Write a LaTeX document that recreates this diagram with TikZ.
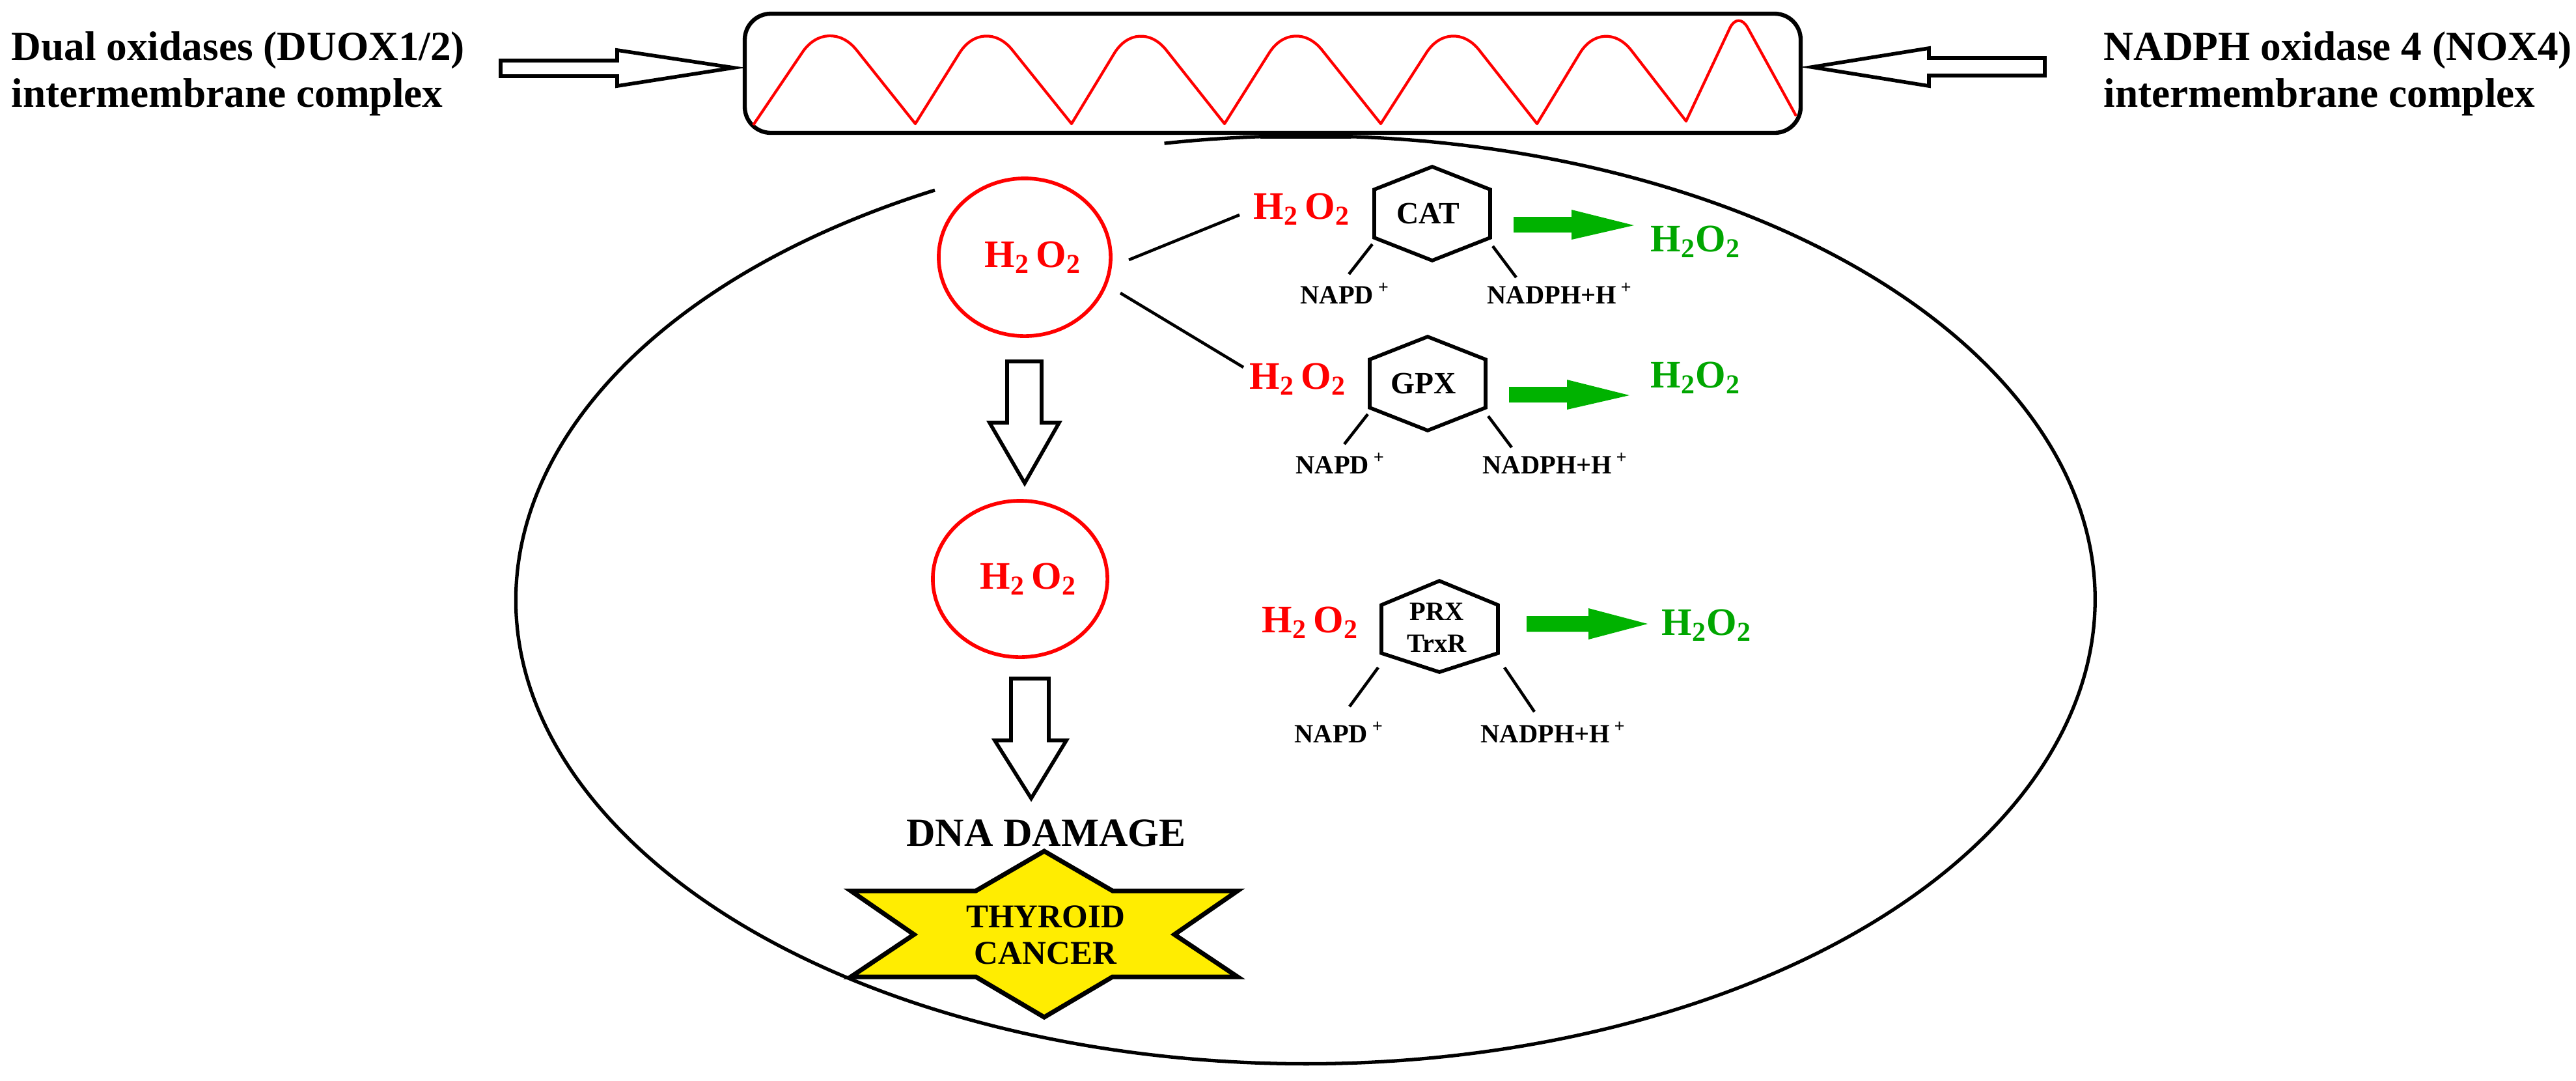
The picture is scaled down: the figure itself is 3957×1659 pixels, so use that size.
\documentclass[tikz,border=0pt]{standalone}
\usepackage{fontspec}
\setmainfont{Liberation Serif}
\usetikzlibrary{shapes.geometric}
\begin{document}
\begin{tikzpicture}[x=0.01cm,y=-0.01cm,
  lbl/.style={font=\bfseries\fontsize{18}{20.2}\selectfont,align=left,anchor=base west,inner sep=0},
  red2/.style={font=\bfseries\fontsize{17}{19}\selectfont,text=red,inner sep=0,anchor=base west},
  grn2/.style={font=\bfseries\fontsize{17}{19}\selectfont,text=green!65!black,inner sep=0,anchor=base west},
  small/.style={font=\bfseries\fontsize{11.5}{13}\selectfont,inner sep=0,anchor=base west},
  hollow/.style={draw=black,fill=white,line width=1.6pt,line join=miter},
  leg/.style={line width=1.3pt},
  hex/.style={line width=1.6pt},
  rc/.style={rounded corners=0.7cm}]
\useasboundingbox (0,0) rectangle (3957,1659);
% top labels
\node[lbl] (duox) at (17,164) {Dual oxidases (DUOX1/2)\\intermembrane complex};
\node[lbl] (nox) at (3231,164) {NADPH oxidase 4 (NOX4)\\intermembrane complex};
% membrane
\draw[line width=1.8pt,rounded corners=0.4cm] (1144,21) rectangle (2766,204);
\draw[red,line width=1.2pt,line join=round] (1157,192)
  [rc] -- (1272,22) [sharp corners] -- (1406,190)
  [rc] -- (1511,22) [sharp corners] -- (1646,190)
  [rc] -- (1748,22) [sharp corners] -- (1881,190)
  [rc] -- (1987,22) [sharp corners] -- (2121,190)
  [rc] -- (2229,22) [sharp corners] -- (2361,190)
  [rc] -- (2463,22) [sharp corners] -- (2590,186)
  [rounded corners=0.3cm] -- (2670,16) [sharp corners] -- (2759,178);
% big arrows
\draw[hollow] (769,93) -- (948,93) -- (948,77) -- (1127,104) -- (948,132) -- (948,117) -- (769,117) -- cycle;
\draw[hollow] (3141,89) -- (2963,89) -- (2963,74) -- (2783,103) -- (2963,132) -- (2963,116) -- (3141,116) -- cycle;
% cell ellipse with gap
\draw[line width=1.5pt] (1436,292) arc[start angle=118,end angle=460.3,x radius=12.12cm,y radius=7.12cm];
\fill (1936,203) -- (2076,203) -- (2076,213) -- (1936,213) -- cycle;
% circles
\node[draw=red,line width=1.6pt,ellipse,minimum width=2.64cm,minimum height=2.42cm,inner sep=0] (c1) at (1574,395) {};
\node[red2] at (1512,410) {H\textsubscript{2}\,O\textsubscript{2}};
\node[draw=red,line width=1.6pt,ellipse,minimum width=2.68cm,minimum height=2.40cm,inner sep=0] (c2) at (1567,889) {};
\node[red2] at (1505,904) {H\textsubscript{2}\,O\textsubscript{2}};
% down arrows
\draw[hollow] (1547,555) -- (1600,555) -- (1600,649) -- (1627,649) -- (1574,742) -- (1520,649) -- (1547,649) -- cycle;
\draw[hollow] (1553,1042) -- (1611,1042) -- (1611,1137) -- (1638,1137) -- (1584,1226) -- (1528,1137) -- (1553,1137) -- cycle;
\node[font=\bfseries\fontsize{17.5}{20}\selectfont,anchor=base,inner sep=0] (dna) at (1607,1299) {DNA DAMAGE};
\draw[line width=2pt,fill=yellow!95!orange,line join=miter] (1604,1307) -- (1709,1368) -- (1901,1368) -- (1804,1435) -- (1901,1500) -- (1709,1500) -- (1604,1562) -- (1499,1500) -- (1307,1500) -- (1404,1435) -- (1307,1368) -- (1499,1368) -- cycle;
\node[font=\bfseries\fontsize{14.5}{16}\selectfont,align=center,inner sep=0] (tc) at (1606,1436) {THYROID\\CANCER};
% connectors from circle
\coordinate (a1) at (1734,399); \coordinate (b1) at (1904,330);
\coordinate (a2) at (1721,450); \coordinate (b2) at (1910,564);
\draw[leg] (a1) -- (b1); \draw[leg] (a2) -- (b2);
% enzyme rows
\foreach \nm/\cx/\cy/\rx/\gx/\gy/\txt in {cat/2200/328/1925/2535/386/CAT, gpx/2193/589/1919/2535/595/GPX}{
  \draw[hex] (\cx,\cy-72) -- (\cx+89,\cy-37) -- (\cx+89,\cy+37) -- (\cx,\cy+72) -- (\cx-89,\cy+37) -- (\cx-89,\cy-37) -- cycle;
  \node[font=\bfseries\fontsize{13.5}{15}\selectfont,inner sep=0] (\nm) at (\cx-6,\cy) {\txt};
  \node[red2] (\nm r) at (\rx,\cy+8) {H\textsubscript{2}\,O\textsubscript{2}};
  \fill[green!70!black] (\cx+125,\cy+5) -- (\cx+214,\cy+5) -- (\cx+214,\cy-6) -- (\cx+310,\cy+18) -- (\cx+214,\cy+40) -- (\cx+214,\cy+29) -- (\cx+125,\cy+29) -- cycle;
  \node[grn2] (\nm g) at (\gx,\gy) {H\textsubscript{2}O\textsubscript{2}};
  \draw[leg] (\cx-92,\cy+47) -- (\cx-128,\cy+93);
  \draw[leg] (\cx+93,\cy+50) -- (\cx+129,\cy+98);
  \node[small] (\nm a) at (\cx-203,\cy+138) {NAPD\,\textsuperscript{+}};
  \node[small] (\nm b) at (\cx+84,\cy+138) {NADPH+H\,\textsuperscript{+}};
}
% PRX row
\draw[hex] (2211,892) -- (2301,929) -- (2301,1003) -- (2211,1032) -- (2122,1003) -- (2122,929) -- cycle;
\node[font=\bfseries\fontsize{11.5}{14}\selectfont,align=center,inner sep=0] (prx) at (2207,964) {PRX\\TrxR};
\node[red2] (prxr) at (1938,971) {H\textsubscript{2}\,O\textsubscript{2}};
\fill[green!70!black] (2345,946) -- (2440,946) -- (2440,934) -- (2531,958) -- (2440,982) -- (2440,970) -- (2345,970) -- cycle;
\node[grn2] (prxg) at (2552,975) {H\textsubscript{2}O\textsubscript{2}};
\draw[leg] (2117,1025) -- (2073,1085);
\draw[leg] (2311,1025) -- (2357,1093);
\node[small] (prxa) at (1988,1140) {NAPD\,\textsuperscript{+}};
\node[small] (prxb) at (2274,1140) {NADPH+H\,\textsuperscript{+}};
\end{tikzpicture}
\end{document}
